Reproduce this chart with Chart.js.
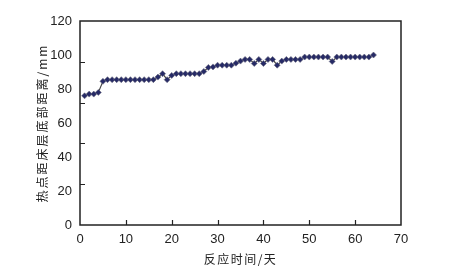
<!DOCTYPE html>
<html>
<head>
<meta charset="utf-8">
<script src="https://cdn.jsdelivr.net/npm/chart.js@4"></script>
<style>
  html, body { margin: 0; padding: 0; background: #fff; }
  #wrap { width: 453px; height: 274px; }
</style>
</head>
<body>
<div id="wrap"><canvas id="hotChart" width="453" height="274"></canvas></div>
<script>
// days (x) and hot-spot height above bed bottom (mm)
const days = [
  1, 2, 3, 4, 5, 6, 7, 8, 9, 10, 11, 12, 13, 14, 15, 16,
  17, 18, 19, 20, 21, 22, 23, 24, 25, 26, 27, 28, 29, 30, 31, 32,
  33, 34, 35, 36, 37, 38, 39, 40, 41, 42, 43, 44, 45, 46, 47, 48,
  49, 50, 51, 52, 53, 54, 55, 56, 57, 58, 59, 60, 61, 62, 63, 64
];
const distance = [
  76, 77, 77, 78, 84.5, 85.5, 85.5, 85.5, 85.5, 85.5, 85.5, 85.5, 85.5, 85.5, 85.5, 85.5,
  87, 89, 85.5, 88, 89, 89, 89, 89, 89, 89, 90.3, 92.7, 93, 94, 94, 94,
  94, 95.2, 96.4, 97.4, 97.4, 95, 97.4, 95, 97.4, 97.4, 94, 96.4, 97.4, 97.4, 97.4, 97.4,
  98.8, 98.8, 98.8, 98.8, 98.8, 98.8, 96.2, 98.8, 98.8, 98.8, 98.8, 98.8, 98.8, 98.8, 98.8, 100
];
// tick marks drawn inside the frame (as in the original figure)
const xTickMarks = [10, 20, 30, 40, 50, 60];
const yTickMarks = [24, 48, 72, 96];
const xTitle = '反应时间/天';
const yTitle = '热点距床层底部距离/mm';

const tickFont = { family: "'Liberation Sans', Arial, sans-serif", size: 13 };
const titleFont = "12px 'Noto Sans CJK SC', sans-serif";

// frame, inward ticks and axis titles
const framePlugin = {
  id: 'frame',
  afterDraw(chart) {
    const ctx = chart.ctx;
    const a = chart.chartArea;
    const xs = chart.scales.x, ys = chart.scales.y;
    ctx.save();
    ctx.strokeStyle = '#222';
    ctx.lineWidth = 1.5;
    ctx.strokeRect(a.left, a.top, a.right - a.left, a.bottom - a.top);
    ctx.beginPath();
    xTickMarks.forEach(v => {
      const px = Math.round(xs.getPixelForValue(v)) + 0.5;
      ctx.moveTo(px, a.bottom);
      ctx.lineTo(px, a.bottom - 5);
    });
    yTickMarks.forEach(v => {
      const py = Math.round(ys.getPixelForValue(v)) + 0.5;
      ctx.moveTo(a.left, py);
      ctx.lineTo(a.left + 5, py);
    });
    ctx.lineWidth = 1.2;
    ctx.stroke();

    // axis titles
    ctx.fillStyle = '#222';
    ctx.font = titleFont;
    ctx.textAlign = 'center';
    ctx.textBaseline = 'middle';
    ctx.letterSpacing = '1.5px';
    ctx.fillText(xTitle, (a.left + a.right) / 2, a.bottom + 34);
    ctx.letterSpacing = '2px';
    ctx.translate(a.left - 38, (a.top + a.bottom) / 2);
    ctx.rotate(-Math.PI / 2);
    ctx.fillText(yTitle, 0, 0);
    ctx.restore();
  }
};

new Chart(document.getElementById('hotChart'), {
  type: 'line',
  data: {
    datasets: [{
      data: days.map((d, i) => ({ x: d, y: distance[i] })),
      borderColor: '#444',
      borderWidth: 1.2,
      pointStyle: 'rectRot',
      pointRadius: 3,
      pointBackgroundColor: '#262a66',
      pointBorderColor: '#6b6b80',
      pointBorderWidth: 0.6,
      tension: 0
    }]
  },
  options: {
    responsive: false,
    animation: false,
    plugins: { legend: { display: false }, tooltip: { enabled: false } },
    layout: { padding: { left: 0, right: 52, top: 21, bottom: 0 } },
    scales: {
      x: {
        type: 'linear',
        min: 0, max: 70,
        ticks: { stepSize: 10, color: '#222', font: tickFont, padding: 7 },
        grid: { display: false, drawTicks: false },
        border: { display: false },
        afterFit(scale) { scale.height = 49; }
      },
      y: {
        min: 0, max: 120,
        ticks: { stepSize: 20, color: '#222', font: tickFont, padding: 8 },
        grid: { display: false, drawTicks: false },
        border: { display: false },
        afterFit(scale) { scale.width = 80; }
      }
    }
  },
  plugins: [framePlugin]
});
</script>
</body>
</html>
